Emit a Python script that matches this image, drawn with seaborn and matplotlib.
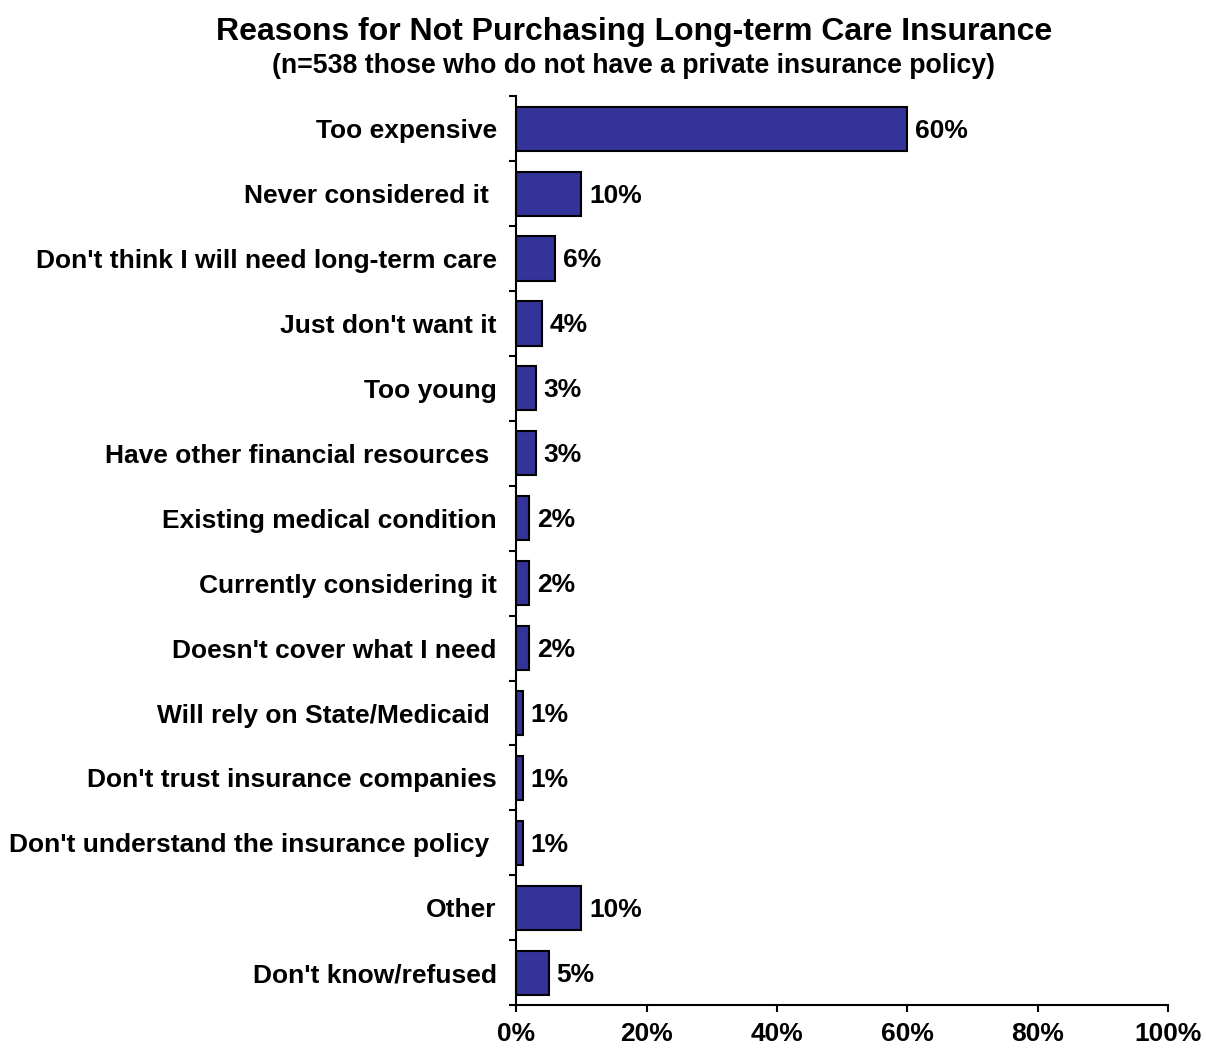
import matplotlib
matplotlib.use("Agg")
import matplotlib.pyplot as plt
import numpy as np
import pandas as pd
import seaborn as sns
from matplotlib.ticker import FixedLocator

# Chart data
reasons = [
    "Too expensive",
    "Never considered it ",
    "Don't think I will need long-term care",
    "Just don't want it",
    "Too young",
    "Have other financial resources ",
    "Existing medical condition",
    "Currently considering it",
    "Doesn't cover what I need",
    "Will rely on State/Medicaid ",
    "Don't trust insurance companies",
    "Don't understand the insurance policy ",
    "Other",
    "Don't know/refused",
]
percents = [60, 10, 6, 4, 3, 3, 2, 2, 2, 1, 1, 1, 10, 5]
x_ticks = [0, 20, 40, 60, 80, 100]

df = pd.DataFrame({"reason": reasons, "pct": percents})

sns.set_style("white")
plt.rcParams["font.family"] = ["Liberation Sans", "DejaVu Sans"]
plt.rcParams["font.weight"] = "bold"
plt.rcParams["text.color"] = "black"
plt.rcParams["xtick.color"] = "black"
plt.rcParams["ytick.color"] = "black"

fig = plt.figure(figsize=(12.06, 10.57), dpi=100)
ax = fig.add_axes([0.428, 0.049, 0.5405, 0.860])

sns.barplot(data=df, x="pct", y="reason", orient="h", color="#333399",
            edgecolor="black", linewidth=1.5, width=0.68, saturation=1, ax=ax)

n = len(reasons)
ax.set_xlim(0, 100)
ax.set_ylim(n - 0.5, -0.5)

# value labels
for i, v in enumerate(percents):
    ax.text(v + 1.2, i + 0.03, f"{v}%", va="center", ha="left",
            fontsize=19, fontweight="bold", color="black")

# axes styling
for side in ["top", "right"]:
    ax.spines[side].set_visible(False)
for side in ["left", "bottom"]:
    ax.spines[side].set_linewidth(1.5)
    ax.spines[side].set_color("black")

ax.set_xticks(x_ticks)
ax.set_xticklabels([f"{t}%" for t in x_ticks], fontsize=19, fontweight="bold")
ax.tick_params(axis="x", direction="out", length=5, width=1.5, pad=7,
               bottom=True)

ax.yaxis.set_minor_locator(FixedLocator(np.arange(-0.5, n, 1.0)))
ax.tick_params(axis="y", which="minor", direction="out", length=5, width=1.5,
               left=True)
ax.tick_params(axis="y", which="major", length=0, pad=14)
for lab in ax.get_yticklabels():
    lab.set_fontsize(19)
    lab.set_fontweight("bold")
    lab.set_color("black")

ax.set_xlabel("")
ax.set_ylabel("")

fig.text(0.5257, 0.970, "Reasons for Not Purchasing Long-term Care Insurance",
         ha="center", va="center", fontsize=23, fontweight="bold")
fig.text(0.5257, 0.938, "(n=538 those who do not have a private insurance policy)",
         ha="center", va="center", fontsize=19.2, fontweight="bold")

fig.savefig("out.png", dpi=100)
